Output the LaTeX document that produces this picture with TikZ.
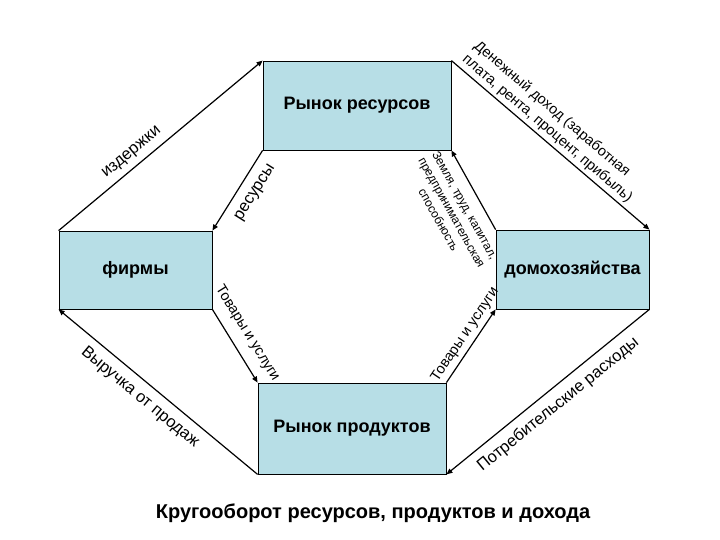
\documentclass[tikz,border=0pt]{standalone}
\usepackage{fontspec}
\setmainfont{Liberation Sans}
\usetikzlibrary{arrows.meta, positioning}
\definecolor{boxfill}{RGB}{183, 222, 230}

\begin{document}
\begin{tikzpicture}[
    x=1pt, y=-1pt,
    market/.style={rectangle, draw=black, fill=boxfill, line width=0.8pt,
                   font=\bfseries\fontsize{18}{21}\selectfont},
    arr/.style={-{Triangle[length=6pt, width=5pt]}, black, line width=1.2pt},
    lbl/.style={font=\fontsize{16.5}{18}\selectfont, sloped, inner sep=2pt},
    slbl/.style={font=\fontsize{14.5}{18}\selectfont, sloped, inner sep=2pt}
  ]
  \useasboundingbox (0,0) rectangle (720,540);

  % Markets
  \node[market, minimum width=188pt, minimum height=89pt] (res)  at (357,105.5) {Рынок ресурсов};
  \node[market, minimum width=188pt, minimum height=91pt] (prod) at (352,428.5) {Рынок продуктов};

  % Agents
  \node[market, minimum width=153pt, minimum height=78pt] (firms) at (135.5,270)   {фирмы};
  \node[market, minimum width=153pt, minimum height=79pt] (house) at (572.5,269.5) {домохозяйства};

  % Outer flows: money
  \draw[arr] (firms.north west) -- node[lbl, above=4pt, pos=0.4] {издержки} (res.north west);
  \draw[arr] (res.north east) -- node[slbl, above=1pt, align=left, pos=0.45]
    {Денежный доход (заработная\\плата, рента, процент, прибыль)} (house.north east);
  \draw[arr] (house.south east) -- node[lbl, below=6pt, pos=0.5] {Потребительские расходы} (prod.south east);
  \draw[arr] (prod.south west) -- node[lbl, below=6pt, pos=0.54] {Выручка от продаж} (firms.south west);

  % Inner flows: resources and goods
  \draw[arr] (res.south west) -- node[lbl, below=8pt, pos=0.42] {ресурсы} (firms.north east);
  \draw[arr] (house.north west) -- node[font=\fontsize{12}{15}\selectfont, sloped, inner sep=2pt,
    below=8pt, align=center, pos=0.4]
    {Земля, труд, капитал,\\предпринимательская\\способность} (res.south east);
  \draw[arr] (firms.south east) -- node[slbl, above=8pt, pos=0.45] {Товары и услуги} (prod.north west);
  \draw[arr] (prod.north east) -- node[slbl, above=2pt, pos=0.57] {Товары и услуги} (house.south west);

  % Title
  \node[font=\bfseries\fontsize{20}{24}\selectfont] (title) at (373,513)
    {Кругооборот ресурсов, продуктов и дохода};

\end{tikzpicture}
\end{document}
